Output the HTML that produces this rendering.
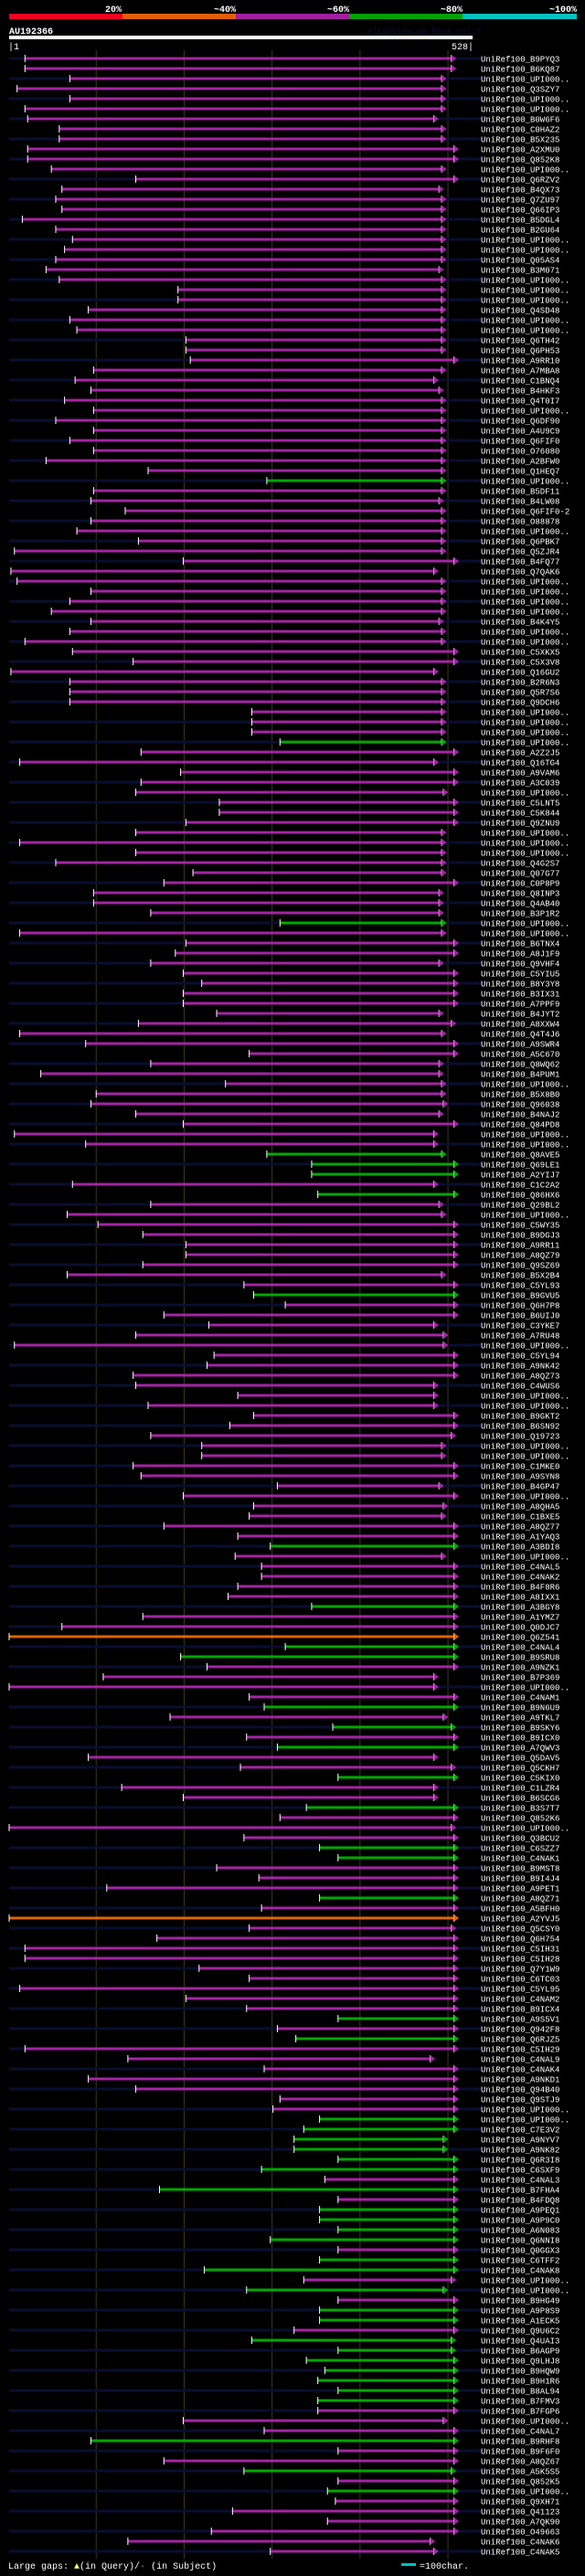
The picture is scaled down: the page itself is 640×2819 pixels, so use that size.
<!DOCTYPE html>
<html><head><meta charset="utf-8">
<style>
html,body{margin:0;padding:0;background:#000;}
body{width:640px;height:2819px;overflow:hidden;}
svg{display:block;}
text{font-family:"Liberation Mono",monospace;}
</style></head>
<body>
<svg id="chart" width="640" height="2819" viewBox="0 0 640 2819">
  <rect x="0" y="0" width="640" height="2819" fill="#000"/>
  <g>
    <text x="133" y="13" fill="#fff" font-size="10" font-weight="bold" text-anchor="end">20%</text>
    <text x="258" y="13" fill="#fff" font-size="10" font-weight="bold" text-anchor="end">~40%</text>
    <text x="382" y="13" fill="#fff" font-size="10" font-weight="bold" text-anchor="end">~60%</text>
    <text x="506" y="13" fill="#fff" font-size="10" font-weight="bold" text-anchor="end">~80%</text>
    <text x="631" y="13" fill="#fff" font-size="10" font-weight="bold" text-anchor="end">~100%</text>
    <rect x="10" y="15" width="124" height="6" fill="#ee0022"/>
    <rect x="134" y="15" width="124" height="6" fill="#e06000"/>
    <rect x="258" y="15" width="124" height="6" fill="#a020a0"/>
    <rect x="382" y="15" width="124" height="6" fill="#00a000"/>
    <rect x="506" y="15" width="125" height="6" fill="#00c0c0"/>
  </g>
  <text x="10" y="37" fill="#fff" font-size="10" font-weight="bold">AU192366</text>
  <text x="402" y="37" fill="#0a1040" font-size="9">AlignView.pm Beta rel.7</text>
  <rect x="10" y="39" width="507" height="4" fill="#fff"/>
  <text x="9" y="54" fill="#fff" font-size="10">|1</text>
  <text x="518" y="54" fill="#fff" font-size="10" text-anchor="end">528|</text>
  <g id="grid"></g>
  <g id="rows"></g>
  <g>
    <text x="9" y="2811" fill="#fff" font-size="10">Large gaps: <tspan fill="#ffff80">▲</tspan>(in Query)/<tspan fill="#00c0c0">-</tspan> (in Subject)</text>
    <rect x="439" y="2805" width="16" height="3" fill="#00c0c0"/>
    <text x="459" y="2811" fill="#fff" font-size="10">=100char.</text>
  </g>
</svg>
<script>
const names = ["B9PYQ3","B6KQ87","UPI000..","Q3SZY7","UPI000..","UPI000..","B0W6F6","C0HAZ2","B5X235","A2XMU0","Q852K8","UPI000..","Q6RZV2","B4QX73","Q7ZU97","Q66IP3","B5DGL4","B2GU64","UPI000..","UPI000..","Q05AS4","B3M071","UPI000..","UPI000..","UPI000..","Q4SD48","UPI000..","UPI000..","Q6TH42","Q6PH53","A9RR10","A7MBA8","C1BNQ4","B4HKF3","Q4T0I7","UPI000..","Q6DF90","A4U9C9","Q6FIF0","O76080","A2BFW0","Q1HEQ7","UPI000..","B5DF11","B4LW08","Q6FIF0-2","O88878","UPI000..","Q6PBK7","Q5ZJR4","B4FQ77",
"Q7QAK6","UPI000..","UPI000..","UPI000..","UPI000..","B4K4Y5","UPI000..","UPI000..","C5XKX5","C5X3V8","Q16GU2","B2R6N3","Q5R7S6","Q9DCH6","UPI000..","UPI000..","UPI000..","UPI000..","A2Z2J5","Q16TG4","A9VAM6","A3C039","UPI000..","C5LNT5","C5K844","Q9ZNU9","UPI000..","UPI000..","UPI000..","Q4G2S7","Q07G77","C0P8P9","Q8INP3","Q4AB40","B3P1R2","UPI000..","UPI000..","B6TNX4","A8J1F9","Q9VHF4","C5YIU5","B8Y3Y8","B3IX31","A7PPF9","B4JYT2","A8XXW4","Q4T4J6","A9SWR4","A5C670",
"Q8WQ62","B4PUM1","UPI000..","B5X8B0","Q96038","B4NAJ2","Q84PD8","UPI000..","UPI000..","Q8AVE5","Q69LE1","A2YIJ7","C1C2A2","Q86HX6","Q29BL2","UPI000..","C5WY35","B9DGJ3","A9RR11","A8QZ79","Q9SZ69","B5X2B4","C5YL93","B9GVU5","Q6H7P8","B6UIJ0","C3YKE7","A7RU48","UPI000..","C5YL94","A9NK42","A8QZ73","C4WUS6","UPI000..","UPI000..","B9GKT2","B6SN92","Q19723","UPI000..","UPI000..","C1MKE0","A9SYN8","B4GP47","UPI000..","A8QHA5","C1BXE5","A8QZ77","A1YAQ3","A3BDI8","UPI000..","C4NAL5",
"C4NAK2","B4F8R6","A8IXX1","A3BGY8","A1YMZ7","Q0DJC7","Q6Z541","C4NAL4","B9SRU8","A9NZK1","B7P369","UPI000..","C4NAM1","B9N6U9","A9TKL7","B9SKY6","B9ICX0","A7QWV3","Q5DAV5","Q5CKH7","C5KIX0","C1LZR4","B6SCG6","B3S7T7","Q852K6","UPI000..","Q3BCU2","C6SZZ7","C4NAK1","B9MST8","B9I4J4","A9PET1","A8QZ71","A5BFH0","A2YVJ5","Q5CSY0","Q6H754","C5IH31","C5IH28","Q7Y1W9","C6TC03","C5YL95","C4NAM2","B9ICX4","A9S5V1","Q942F8","Q6RJZ5","C5IH29","C4NAL9","C4NAK4",
"A9NKD1","Q94B40","Q9STJ9","UPI000..","UPI000..","C7E3V2","A9NYV7","A9NK82","Q6R3I8","C6SXF9","C4NAL3","B7FHA4","B4FDQ8","A9PEQ1","A9P9C0","A6N083","Q6NNI8","Q0GGX3","C6TFF2","C4NAK8","UPI000..","UPI000..","B9HG49","A9P8S9","A1ECK5","Q9U6C2","Q4UAI3","B6AGP9","Q9LHJ8","B9HQW9","B9H1R6","B8AL94","B7FMV3","B7FGP6","UPI000..","C4NAL7","B9RHF8","B9F6F0","A8QZ67","A5K5S5","Q852K5","UPI000..","Q9XH71","Q41123","A7QK90","O49663","C4NAK6","C4NAK5"];
const starts = [19,19,70,10,70,19,22,58,58,22,22,49,145,61,54,61,16,54,73,64,54,43,58,193,193,91,70,78,202,202,207,97,76,94,64,97,54,97,70,97,43,159,294,97,94,133,94,78,148,7,199,
3,10,94,70,49,94,70,19,73,142,3,70,70,70,277,277,277,309,151,13,196,151,145,240,240,202,145,13,145,54,210,177,97,97,162,309,13,202,190,162,199,220,199,199,237,148,13,88,274,
162,37,247,100,94,145,199,7,88,294,345,345,73,352,162,67,102,153,202,202,153,67,268,279,315,177,228,145,7,234,226,142,145,261,159,279,252,162,220,220,142,151,306,199,279,274,177,261,298,258,288,
288,261,250,345,153,61,1,315,196,226,108,1,274,291,184,369,271,306,91,264,375,129,199,339,309,1,268,354,375,237,285,112,354,288,1,274,169,19,19,217,274,13,202,271,375,306,327,19,136,291,
91,145,309,301,354,336,325,325,375,288,360,172,375,354,354,375,298,375,354,223,336,271,375,354,354,325,277,375,339,360,352,375,352,352,199,291,94,375,177,268,375,363,372,255,363,231,136,298];
const ends = [509,509,498,498,498,498,489,498,498,512,512,498,512,495,498,498,498,498,498,498,498,495,498,498,498,498,498,498,498,498,512,498,489,495,498,498,498,498,498,498,498,498,498,498,495,498,498,498,498,498,512,
489,498,498,498,498,495,498,498,512,512,489,498,498,498,498,498,498,498,512,489,512,512,500,512,512,512,498,498,498,498,498,512,495,495,495,498,498,512,512,495,512,512,512,512,495,509,498,512,512,
495,495,498,498,500,495,512,489,489,498,512,512,489,512,495,498,512,512,512,512,512,498,512,512,512,512,489,500,500,512,512,512,489,489,489,512,512,509,498,498,512,512,495,512,500,498,512,512,512,498,512,
512,512,512,512,512,512,512,512,512,512,489,489,512,512,500,509,512,512,489,509,512,489,489,512,512,509,512,512,512,512,512,512,512,512,512,509,512,512,512,512,512,512,512,512,512,512,512,512,485,512,
512,512,512,512,512,512,500,500,512,512,512,512,512,512,512,512,512,512,512,512,509,500,512,512,512,512,509,509,512,512,512,512,512,512,500,512,512,512,512,509,512,512,512,512,512,512,485,489];
const colorCodes = "mmmmmmmmmmmmmmmmmmmmmmmmmmmmmmmmmmmmmmmmmmgmmmmmmmm" +
  "mmmmmmmmmmmmmmmmmgmmmmmmmmmmmmmmmmmgmmmmmmmmmmmmm" +
  "mmmmmmmmmgggmgmmmmmmmmmgmmmmmmmmmmmmmmmmmmmmmmmmgmm" +
  "mmmgmmoggmmmmgmgmgmmgmmgmmmggmmmgmommmmmmmmmgmgmmm" +
  "mmmmggggggmgmggggmggmgmggmgggggggmmmgmmgmgmmmmm";
const tickPositions = [100,200,300,400,500];
const colorMap = {m:"#a424a4", g:"#00a800", o:"#e26400"};

const NS = "http://www.w3.org/2000/svg";
const X0 = 10, X1 = 517, QLEN = 528, ROW0 = 64, ROWH = 11;
function xScale(r){ return X0 + (r - 1) * (X1 - X0) / (QLEN - 1); }
function yScale(i){ return ROW0 + i * ROWH; }
function mk(tag, attrs){ const e = document.createElementNS(NS, tag); for (const k in attrs) e.setAttribute(k, attrs[k]); return e; }

const grid = document.getElementById('grid');
tickPositions.forEach(t => {
  const l = mk('line', {x1: xScale(t), x2: xScale(t), y1: 55, y2: 2800, stroke: '#3c3a12', 'stroke-width': 1});
  
  
  grid.appendChild(l);
});

const rows = document.getElementById('rows');
names.forEach((n, i) => {
  const y = yScale(i);
  const g = mk('g', {});
  
  
  if (i % 2 === 0) {
    const s = mk('rect', {x: 10, y: y - 1.5, width: 517, height: 3, fill: '#0a0e30'});
    
    
    g.appendChild(s);
  }
  const c = colorMap[colorCodes[i]] || colorMap.m;
  const xs = xScale(starts[i]), xe = xScale(ends[i]);
  const bar = mk('rect', {x: xs, y: y - 1.5, width: Math.max(1, xe - xs - 5), height: 3, fill: c});
  
  
  g.appendChild(bar);
  const endTick = mk('rect', {x: xe - 5.5, y: y - 4, width: 1, height: 8, fill: '#fff'});
  
  
  g.appendChild(endTick);
  const tri = mk('polygon', {points: (xe - 5) + ',' + (y - 4) + ' ' + (xe + 0.5) + ',' + y + ' ' + (xe - 5) + ',' + (y + 4), fill: c});
  
  
  g.appendChild(tri);
  const tick = mk('rect', {x: xs - 0.5, y: y - 4, width: 1, height: 8, fill: '#fff'});
  
  
  g.appendChild(tick);
  const t = mk('text', {x: 526, y: y + 3.5, fill: '#fff', 'font-size': 9});
  t.textContent = 'UniRef100_' + n;
  
  
  g.appendChild(t);
  rows.appendChild(g);
});
</script>
</body></html>
